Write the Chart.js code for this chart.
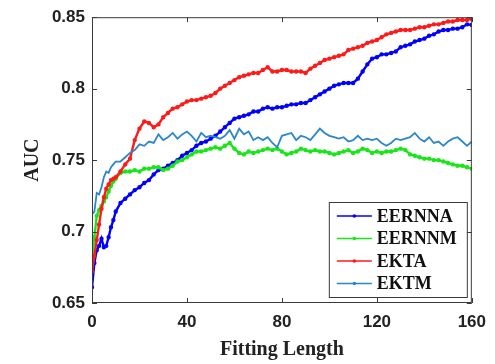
<!DOCTYPE html>
<html>
<head>
<meta charset="utf-8">
<script src="https://cdn.jsdelivr.net/npm/chart.js@4/dist/chart.umd.min.js"></script>
<style>
  html, body { margin: 0; padding: 0; background: #fff; }
  canvas { display: block; }
</style>
</head>
<body>
<canvas id="aucChart" width="495" height="364"></canvas>
<script>
// Fitting length values (x)
const fittingLength = [0, 1, 2, 3, 4, 5, 6, 7, 8, 9, 10,
  12, 14, 16, 18, 20, 22, 24, 26, 28, 30, 32, 34, 36, 38, 40,
  42, 44, 46, 48, 50, 52, 54, 56, 58, 60, 62, 64, 66, 68, 70,
  72, 74, 76, 78, 80, 82, 84, 86, 88, 90, 92, 94, 96, 98, 100,
  102, 104, 106, 108, 110, 112, 114, 116, 118, 120, 122, 124, 126, 128, 130,
  132, 134, 136, 138, 140, 142, 144, 146, 148, 150, 152, 154, 156, 158, 160];

const seriesNames = ["EERNNA", "EERNNM", "EKTA", "EKTM"];
const seriesColors = ["#0000ff", "#19e619", "#ff1a1a", "#2b87c9"];

const eernna = [0.661, 0.678, 0.687, 0.690, 0.695, 0.689, 0.690, 0.696, 0.703, 0.708, 0.714,
  0.720, 0.723, 0.726, 0.729, 0.731, 0.734, 0.736, 0.740, 0.743, 0.744, 0.746, 0.748, 0.750, 0.753, 0.755,
  0.757, 0.760, 0.762, 0.763, 0.765, 0.767, 0.770, 0.773, 0.776, 0.779, 0.780, 0.781, 0.782, 0.784, 0.784,
  0.786, 0.787, 0.786, 0.787, 0.787, 0.788, 0.789, 0.789, 0.790, 0.790, 0.792, 0.794, 0.796, 0.798, 0.800,
  0.802, 0.803, 0.804, 0.804, 0.804, 0.807, 0.812, 0.817, 0.821, 0.822, 0.824, 0.824, 0.825, 0.826, 0.829,
  0.830, 0.831, 0.833, 0.834, 0.835, 0.837, 0.838, 0.840, 0.841, 0.841, 0.842, 0.842, 0.843, 0.845, 0.8445];

const eernnm = [0.678, 0.696, 0.711, 0.715, 0.718, 0.721, 0.724, 0.728, 0.732, 0.735, 0.737,
  0.741, 0.742, 0.742, 0.743, 0.742, 0.744, 0.744, 0.745, 0.745, 0.743, 0.744, 0.746, 0.749, 0.750, 0.752,
  0.754, 0.756, 0.756, 0.757, 0.758, 0.759, 0.758, 0.760, 0.762, 0.758, 0.755, 0.754, 0.756, 0.755, 0.756,
  0.757, 0.758, 0.757, 0.758, 0.756, 0.754, 0.755, 0.756, 0.758, 0.757, 0.756, 0.757, 0.756, 0.756, 0.755,
  0.754, 0.755, 0.756, 0.757, 0.755, 0.756, 0.758, 0.757, 0.755, 0.756, 0.755, 0.756, 0.756, 0.757, 0.758,
  0.757, 0.754, 0.753, 0.752, 0.751, 0.751, 0.750, 0.750, 0.749, 0.748, 0.747, 0.746, 0.746, 0.745, 0.744];

const ekta = [0.672, 0.683, 0.694, 0.705, 0.716, 0.724, 0.730, 0.733, 0.736, 0.737, 0.738,
  0.742, 0.747, 0.751, 0.764, 0.772, 0.777, 0.776, 0.773, 0.775, 0.780, 0.783, 0.786, 0.787, 0.789, 0.791,
  0.792, 0.792, 0.793, 0.794, 0.795, 0.797, 0.800, 0.802, 0.804, 0.806, 0.808, 0.809, 0.810, 0.811, 0.811,
  0.813, 0.815, 0.812, 0.812, 0.813, 0.813, 0.812, 0.812, 0.812, 0.811, 0.814, 0.816, 0.818, 0.820, 0.821,
  0.822, 0.823, 0.824, 0.827, 0.828, 0.829, 0.830, 0.832, 0.833, 0.834, 0.836, 0.838, 0.839, 0.840, 0.841,
  0.841, 0.841, 0.842, 0.843, 0.843, 0.844, 0.845, 0.845, 0.846, 0.847, 0.847, 0.848, 0.848, 0.848, 0.849];

const ektm = [0.712, 0.714, 0.727, 0.726, 0.731, 0.738, 0.742, 0.741, 0.745, 0.747, 0.749,
  0.749, 0.752, 0.755, 0.757, 0.761, 0.760, 0.763, 0.762, 0.768, 0.764, 0.766, 0.769, 0.765, 0.768, 0.770,
  0.767, 0.763, 0.769, 0.766, 0.767, 0.766, 0.765, 0.767, 0.771, 0.765, 0.772, 0.768, 0.770, 0.764, 0.766,
  0.764, 0.766, 0.762, 0.759, 0.767, 0.768, 0.769, 0.764, 0.767, 0.766, 0.764, 0.768, 0.772, 0.769, 0.767,
  0.766, 0.765, 0.766, 0.763, 0.764, 0.767, 0.764, 0.765, 0.764, 0.765, 0.762, 0.760, 0.762, 0.765, 0.764,
  0.765, 0.766, 0.769, 0.765, 0.763, 0.766, 0.762, 0.763, 0.760, 0.763, 0.765, 0.766, 0.763, 0.760, 0.763];

const xTicks = [0, 40, 80, 120, 160];
const yTicks = [0.65, 0.7, 0.75, 0.8, 0.85];

const serifBold = { family: "'Liberation Serif', 'Times New Roman', serif", weight: "bold" };
const sansBold = { family: "'Liberation Sans', Arial, sans-serif", weight: "bold" };
const axisColor = "#3a3a3a";

const toPoints = (values) => fittingLength.map((x, i) => ({ x: x, y: values[i] }));

/**
 * Draws the box around the plot and the inward tick marks
 */
const frameAndTicks = {
  id: "frameAndTicks",
  afterDatasetsDraw(chart) {
    const { ctx, chartArea: a, scales } = chart;
    ctx.save();
    ctx.strokeStyle = axisColor;
    ctx.lineWidth = 1;
    ctx.strokeRect(a.left + 0.5, a.top + 0.5, a.right - a.left - 1, a.bottom - a.top - 1);
    ctx.beginPath();
    xTicks.forEach((v) => {
      const px = Math.round(scales.x.getPixelForValue(v)) + 0.5;
      ctx.moveTo(px, a.bottom);
      ctx.lineTo(px, a.bottom - 5);
      ctx.moveTo(px, a.top);
      ctx.lineTo(px, a.top + 5);
    });
    yTicks.forEach((v) => {
      const py = Math.round(scales.y.getPixelForValue(v)) + 0.5;
      ctx.moveTo(a.left, py);
      ctx.lineTo(a.left + 5, py);
      ctx.moveTo(a.right, py);
      ctx.lineTo(a.right - 5, py);
    });
    ctx.stroke();
    ctx.restore();
  },
};

/**
 * Legend box in the lower right corner of the plot
 */
const boxLegend = {
  id: "boxLegend",
  afterDraw(chart) {
    const { ctx, chartArea: a } = chart;
    const boxW = 138;
    const boxH = 95;
    const left = a.right - 5 - boxW;
    const top = a.bottom - 6 - boxH;
    ctx.save();
    ctx.fillStyle = "#fff";
    ctx.fillRect(left, top, boxW, boxH);
    ctx.strokeStyle = axisColor;
    ctx.lineWidth = 1;
    ctx.strokeRect(left + 0.5, top + 0.5, boxW, boxH);
    ctx.font = "bold 18px 'Liberation Serif', 'Times New Roman', serif";
    ctx.textBaseline = "middle";
    chart.data.datasets.forEach((ds, i) => {
      const y = top + 14 + i * 22.5;
      ctx.strokeStyle = ds.borderColor;
      ctx.lineWidth = 1.5;
      ctx.beginPath();
      ctx.moveTo(left + 8, y);
      ctx.lineTo(left + 43, y);
      ctx.stroke();
      ctx.fillStyle = ds.borderColor;
      ctx.beginPath();
      ctx.arc(left + 25.5, y, 1.8, 0, Math.PI * 2);
      ctx.fill();
      ctx.fillStyle = "#111";
      ctx.fillText(ds.label, left + 48, y + 1);
    });
    ctx.restore();
  },
};

const ctx = document.getElementById("aucChart").getContext("2d");

const datasets = [eernna, eernnm, ekta, ektm].map((values, i) => ({
  label: seriesNames[i],
  data: toPoints(values),
  borderColor: seriesColors[i],
  backgroundColor: seriesColors[i],
  borderWidth: i === 3 ? 1.8 : 2.4,
  pointRadius: i === 3 ? 0 : 1,
  pointHoverRadius: 0,
  tension: 0,
  order: 4 - i,
}));

new Chart(ctx, {
  type: "line",
  data: { datasets: datasets },
  options: {
    responsive: false,
    animation: false,
    devicePixelRatio: 1,
    layout: { padding: { top: 14, right: 23, left: 0, bottom: 0 } },
    plugins: {
      legend: { display: false },
      tooltip: { enabled: false },
    },
    scales: {
      x: {
        type: "linear",
        min: 0,
        max: 160,
        afterFit: (scale) => { scale.height = 61; },
        afterBuildTicks: (scale) => { scale.ticks = xTicks.map((v) => ({ value: v })); },
        grid: { display: false, drawTicks: false },
        border: { display: false },
        ticks: {
          color: "#222",
          font: { ...sansBold, size: 17 },
          padding: 9,
          maxRotation: 0,
          callback: (v) => String(v),
        },
        title: {
          display: true,
          text: "Fitting Length",
          color: "#222",
          font: { ...serifBold, size: 20 },
          padding: { top: 0, bottom: 2 },
        },
      },
      y: {
        type: "linear",
        min: 0.65,
        max: 0.85,
        afterFit: (scale) => { scale.width = 92; },
        afterBuildTicks: (scale) => { scale.ticks = yTicks.map((v) => ({ value: v })); },
        grid: { display: false, drawTicks: false },
        border: { display: false },
        ticks: {
          color: "#222",
          font: { ...sansBold, size: 17 },
          padding: 7,
          callback: (v) => String(+v.toFixed(2)),
        },
        title: {
          display: true,
          text: "AUC",
          color: "#222",
          font: { ...serifBold, size: 20 },
          padding: { top: 21, bottom: 0 },
        },
      },
    },
  },
  plugins: [frameAndTicks, boxLegend],
});
</script>
</body>
</html>
